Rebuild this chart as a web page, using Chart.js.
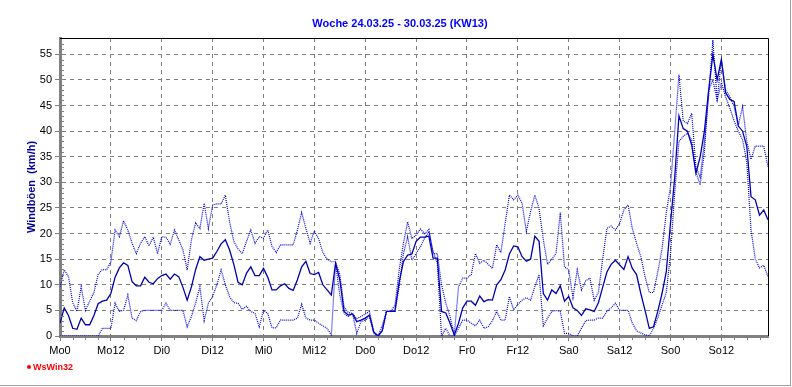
<!DOCTYPE html>
<html>
<head>
<meta charset="utf-8">
<script src="https://cdn.jsdelivr.net/npm/chart.js@4"></script>
<style>
  html, body { margin: 0; padding: 0; background: #fff; }
</style>
</head>
<body>
<canvas id="chart" width="792" height="387"></canvas>
<script>
const titleText = "Woche 24.03.25 - 30.03.25 (KW13)";
const yTitle = "Windböen  (km/h)";
const tickLabels = ["Mo0", "Mo12", "Di0", "Di12", "Mi0", "Mi12", "Do0", "Do12", "Fr0", "Fr12", "Sa0", "Sa12", "So0", "So12"];

// hourly values, Mo 0:00 .. So 23:00
const avgGust = [
  2.5, 5.5, 4, 1.5, 1.3, 3.5, 2.2, 2.2, 4, 6.3,
  6.8, 7, 8.3, 11.5, 13.3, 14.3, 13.8, 10.6, 9.8, 9.8,
  11.5, 10.5, 10.2, 11.2, 11.8, 12.1, 11.1, 12.1, 11.6, 9.5,
  7, 9.6, 13, 15.5, 14.8, 15, 15.2, 16.5, 18, 18.8,
  16.8, 14, 10.5, 10, 12.3, 13.5, 11.8, 11.8, 13.2, 11.5,
  9, 9, 9.8, 10.2, 9.3, 8.9, 11, 13.5, 14.6, 12.2,
  12, 12.4, 10, 9, 8, 14.2, 11, 4.8, 4.1, 4.3,
  2.8, 3.1, 3.5, 4.1, 0.8, 0, 1, 4.8, 4.8, 4.8,
  10.5, 14.5, 15.8, 16, 18.5, 19.3, 19.3, 19.5, 15.2, 15.2,
  4.8, 4.5, 2.5, 0.2, 2.5, 5.5, 6.8, 6.8, 6, 7.8,
  6.7, 7.1, 7, 10, 11, 12.9, 16, 17.6, 17.4, 15.5,
  14.6, 15, 19.5, 18.5, 8.3, 7, 9, 8.3, 9.8, 6.8,
  7.7, 5.5, 5, 4, 5.3, 5.1, 4.8, 6.5, 9.5, 12.5,
  14, 14.8, 13.9, 13, 15.5, 13.2, 12, 8.3, 5, 1.5,
  1.8, 4.8, 8.3, 12.5, 22, 31, 43, 40.5, 40, 37.3,
  31.8, 35, 40, 48, 55, 50, 54, 47.5, 46.2, 45.8,
  41, 40, 37, 27.2, 26.6, 23.6, 24.6, 22.7
];

const maxGust = [
  9.6, 12.9, 11.6, 6.5, 4.8, 9.6, 5, 6.8, 8.5, 12,
  13, 12.9, 14.5, 20.7, 19.4, 22.5, 20.7, 18.1, 16.1, 18.1,
  19.4, 17.6, 19.3, 16.1, 19.4, 19.3, 17.9, 20.7, 18.8, 16.8,
  12.9, 18.8, 22.1, 21, 25.9, 21, 25.6, 25.8, 25.8, 27.5,
  22.3, 18.5, 17, 16.1, 18.5, 20.7, 18.1, 19.4, 19.1, 20.7,
  17.5, 16.3, 17.8, 17.8, 17.8, 17.8, 20.7, 24.1, 21, 18.1,
  20.5, 19, 16.3, 15, 14.5, 14.5, 12, 5.7, 4.6, 4.4,
  3.4, 3.8, 4.3, 4.8, 0.8, 0, 2, 4.8, 4.8, 6,
  12.9, 18.1, 22.3, 19, 19.7, 20.9, 20, 20.8, 16.1, 16.1,
  10, 6.4, 3.8, 0.2, 9.6, 11.3, 11.3, 12, 16.1, 14.2,
  14.8, 14, 13.2, 17.8, 16.3, 22, 27.5, 26.6, 27.5, 25.9,
  20.4, 24.3, 27.5, 24.9, 18.8, 14, 15, 16.1, 24.1, 13.5,
  12.9, 7.5, 12.9, 9, 10.8, 11.3, 7, 8.5, 15, 21,
  21.5, 20.7, 22, 24.6, 25.6, 21, 18.1, 15.5, 11.6, 8.5,
  8.5, 12.5, 17, 24, 29.2, 40, 51, 42, 41.5, 43.5,
  33, 31, 38, 47, 57.8, 46, 53.9, 48, 46.7, 44.8,
  41.2, 44.8, 38, 34.5, 37.1, 37.1, 37.1, 33
];

const minGust = [
  0, 0, 0, 0, 0, 0, 0, 0, 0, 0,
  1.5, 1.5, 1.5, 6.4, 4.8, 5, 8, 3.5, 3, 4.8,
  5, 5, 5, 5, 5, 6.4, 5, 5, 5, 5,
  1.8, 3.8, 6.5, 9.6, 3, 6.4, 7.7, 10, 12.9, 10,
  7.7, 6.5, 6.4, 5.2, 5.8, 4.8, 4.4, 1.8, 5, 4.4,
  1.6, 1.6, 3.1, 3.1, 3.1, 3.1, 3.5, 6.2, 3.5, 3.1,
  3.1, 2.5, 2, 1.5, 0.2, 14.2, 8, 4.4, 3.8, 4.4,
  0.5, 2.8, 3.1, 3.8, 0.5, 0, 1, 4.8, 4.8, 4.8,
  9.6, 16, 19.4, 14.8, 16.1, 17.4, 19.1, 20.4, 16.5, 14.2,
  0, 1.5, 0, 0, 1.5, 3.1, 3.1, 2.5, 2, 3.1,
  1.5, 1.8, 3, 4.8, 3.1, 3.1, 7.7, 5.1, 6.2, 7,
  7.5, 7, 9.6, 12, 2, 3.5, 4.8, 5, 4.8, 0.5,
  0.5, 0, 0, 1.5, 3, 3.1, 3.1, 3.5, 3.5, 4.8,
  5.5, 6.4, 5, 5, 5, 2.5, 1, 0.6, 0.2, 0,
  1.5, 3.5, 6, 8.5, 16, 28, 38, 39, 39.6, 38.3,
  32, 29.5, 36, 48, 50, 46, 49.5, 46.7, 44.5, 42,
  40, 38.3, 34, 20.7, 15, 13.3, 13.8, 11.6
];

const toPoints = arr => arr.map((v, i) => ({ x: i, y: v }));

// top/right frame, minor ticks, title, logo, window border
const extras = {
  id: "extras",
  afterDraw(chart) {
    const { ctx, chartArea: a, scales: { x, y } } = chart;
    ctx.save();

    ctx.strokeStyle = "#000";
    ctx.lineWidth = 1;
    ctx.beginPath();
    ctx.moveTo(a.left, a.top + 0.5);
    ctx.lineTo(a.right + 0.5, a.top + 0.5);
    ctx.lineTo(a.right + 0.5, a.bottom);
    ctx.stroke();

    ctx.strokeStyle = "#808080";
    ctx.beginPath();
    for (let h = 3; h < 167; h += 3) {
      if (h % 12 === 0) continue;
      const px = Math.round(x.getPixelForValue(h)) + 0.5;
      ctx.moveTo(px, a.bottom + 1);
      ctx.lineTo(px, a.bottom + 4);
    }
    for (let v = 1; v < 58; v++) {
      if (v % 5 === 0) continue;
      const py = Math.round(y.getPixelForValue(v)) + 0.5;
      ctx.moveTo(a.left + 1, py);
      ctx.lineTo(a.left + 4, py);
    }
    ctx.stroke();

    ctx.fillStyle = "#0000FF";
    ctx.font = 'bold 11px "Liberation Sans", Arial, sans-serif';
    ctx.textAlign = "center";
    ctx.textBaseline = "middle";
    ctx.fillText(titleText, 400, 24);

    ctx.fillStyle = "#FF0000";
    ctx.beginPath();
    ctx.arc(29, 367, 2, 0, Math.PI * 2);
    ctx.fill();
    ctx.font = 'bold 9px "Liberation Sans", Arial, sans-serif';
    ctx.textAlign = "left";
    ctx.fillText("WsWin32", 33, 367.5);

    ctx.fillStyle = "#A0A0A0";
    ctx.fillRect(790, 0, 1, 386);
    ctx.fillRect(0, 385, 791, 1);
    ctx.restore();
  }
};

const tickFont = { family: "Liberation Sans", size: 11 };

new Chart(document.getElementById("chart"), {
  type: "line",
  data: {
    datasets: [
      {
        label: "Min",
        data: toPoints(minGust),
        borderColor: "#0000E0",
        borderWidth: 1.2,
        borderDash: [1, 1],
      },
      {
        label: "Max",
        data: toPoints(maxGust),
        borderColor: "#0000E0",
        borderWidth: 1.2,
        borderDash: [1, 1],
      },
      {
        label: "Windböen",
        data: toPoints(avgGust),
        borderColor: "#0000B0",
        borderWidth: 1.3,
      },
    ],
  },
  options: {
    responsive: false,
    animation: false,
    events: [],
    layout: { padding: { top: 38, right: 24, left: 0, bottom: 0 } },
    elements: { point: { radius: 0 }, line: { tension: 0, fill: false } },
    plugins: {
      legend: { display: false },
      title: { display: false },
      tooltip: { enabled: false },
    },
    scales: {
      x: {
        type: "linear",
        min: 0,
        max: 167,
        afterFit: (s) => { s.height = 51; },
        ticks: {
          stepSize: 12,
          includeBounds: false,
          autoSkip: false,
          maxRotation: 0,
          padding: 3,
          color: "#000",
          font: tickFont,
          callback: (v) => tickLabels[v / 12] ?? "",
        },
        grid: { color: "#808080", tickColor: "#808080", tickLength: 5, lineWidth: 1 },
        border: { color: "#808080", width: 3, dash: [4, 4] },
      },
      y: {
        min: 0,
        max: 58.2,
        afterFit: (s) => { s.width = 60; },
        ticks: {
          stepSize: 5,
          includeBounds: false,
          padding: 3,
          color: "#000",
          font: tickFont,
        },
        grid: { color: "#808080", tickColor: "#808080", tickLength: 5, lineWidth: 1 },
        border: { color: "#808080", width: 3, dash: [4, 4] },
        title: {
          display: true,
          text: yTitle,
          color: "#0000A0",
          font: { family: "Liberation Sans", size: 11, weight: "bold" },
          padding: { top: 25, bottom: 0 },
        },
      },
    },
  },
  plugins: [extras],
});
</script>
</body>
</html>
